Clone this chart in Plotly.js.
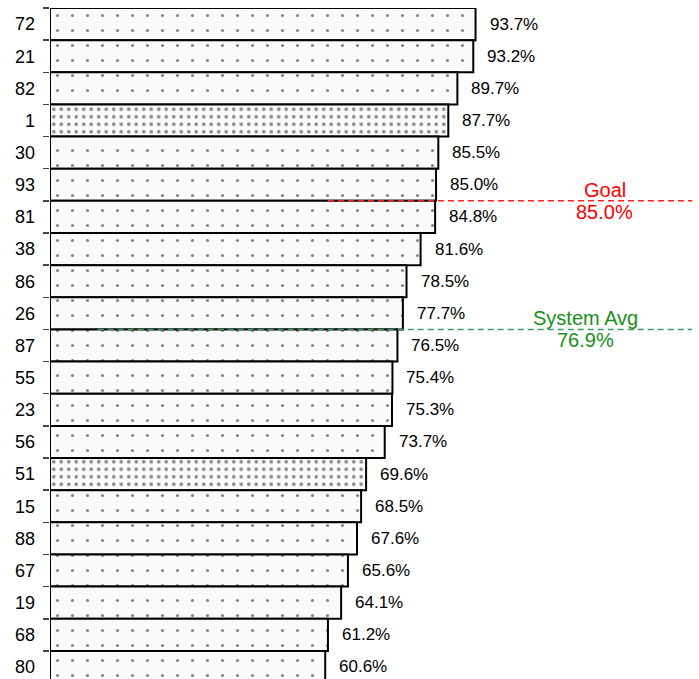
<!DOCTYPE html>
<html>
<head>
<meta charset="utf-8">
<script src="https://cdn.plot.ly/plotly-3.0.1.min.js"></script>
<style>
html,body{margin:0;padding:0;background:#fff;}
#chart{width:699px;height:679px;}
</style>
</head>
<body>
<div id="chart"></div>
<script>
// ---- data ----
const categories = ["72","21","82","1","30","93","81","38","86","26","87","55","23","56","51","15","88","67","19","68","80"];
const values = [93.7,93.2,89.7,87.7,85.5,85.0,84.8,81.6,78.5,77.7,76.5,75.4,75.3,73.7,69.6,68.5,67.6,65.6,64.1,61.2,60.6];
const highlighted = ["1","51"];
const goalValue = 85.0;
const goalLabel = "Goal";
const avgValue = 76.9;
const avgLabel = "System Avg";

// ---- styling helpers ----
const isHi = categories.map(c => highlighted.includes(c));
const patShape = categories.map(() => ".");
const patSize = isHi.map(h => h ? 7.5 : 15);
const patSolid = isHi.map(h => h ? 0.18 : 0.035);
const patFg = isHi.map(h => h ? "#111" : "#111");

const fmt = v => v.toFixed(1) + "%";
function rankPos(v){ return values.filter(x => x >= v).length - 0.5; }

const trace = {
  type: "bar",
  orientation: "h",
  y: categories,
  x: values,
  marker: {
    color: "#fafafa",
    line: {color: "#000", width: 2},
    pattern: {shape: patShape, size: patSize, solidity: patSolid, fgcolor: patFg, bgcolor: "#fafafa", fillmode: "overlay"}
  },
  hoverinfo: "none"
};

const valueAnns = values.map((v, i) => ({
  x: v, y: i, xref: "x", yref: "y",
  text: fmt(v), showarrow: false, xanchor: "left", xshift: 12,
  font: {family: "Liberation Sans, Arial, sans-serif", size: 17, color: "#000"}
}));

const goalY = rankPos(goalValue);
const avgY = rankPos(avgValue);
const refFont = (c) => ({family: "Liberation Sans, Arial, sans-serif", size: 20, color: c});

const refAnns = [
  {x: 122.2, y: goalY, xref: "x", yref: "y", text: goalLabel, showarrow: false, xanchor: "center", yanchor: "bottom", yshift: -2, font: refFont("#ff0000")},
  {x: 122.2, y: goalY, xref: "x", yref: "y", text: fmt(goalValue), showarrow: false, xanchor: "center", yanchor: "top", yshift: 2, font: refFont("#ff0000")},
  {x: 118.0, y: avgY, xref: "x", yref: "y", text: avgLabel, showarrow: false, xanchor: "center", yanchor: "bottom", yshift: -2, font: refFont("#1a8f1a")},
  {x: 118.0, y: avgY, xref: "x", yref: "y", text: fmt(avgValue), showarrow: false, xanchor: "center", yanchor: "top", yshift: 2, font: refFont("#1a8f1a")}
];

const shapes = [
  {type: "line", xref: "x", yref: "y", x0: 61.2, x1: 141.4, y0: goalY, y1: goalY, line: {color: "#ff2020", width: 1.5, dash: "6px,4px"}},
  {type: "line", xref: "x", yref: "y", x0: 10.5, x1: 141.4, y0: avgY, y1: avgY, line: {color: "#3a9a6a", width: 1.5, dash: "6px,4px"}}
];

const layout = {
  width: 699, height: 679,
  margin: {l: 50, r: 0, t: 8, b: 0, pad: 0},
  paper_bgcolor: "#fff", plot_bgcolor: "#fff",
  bargap: 0,
  showlegend: false,
  xaxis: {range: [0, 142.9], visible: false, showgrid: false, zeroline: false, fixedrange: true},
  yaxis: {
    type: "category", categoryorder: "array", categoryarray: categories,
    range: [20.374, -0.5],
    ticks: "outside", tickson: "boundaries", ticklen: 6, tickwidth: 1.5, tickcolor: "#444",
    showline: false, showgrid: false, zeroline: false,
    ticklabelstandoff: 14,
    tickfont: {family: "Liberation Sans, Arial, sans-serif", size: 18, color: "#000"}
  },
  annotations: valueAnns.concat(refAnns),
  shapes: shapes
};

Plotly.newPlot("chart", [trace], layout, {staticPlot: true, displayModeBar: false});
</script>
</body>
</html>
